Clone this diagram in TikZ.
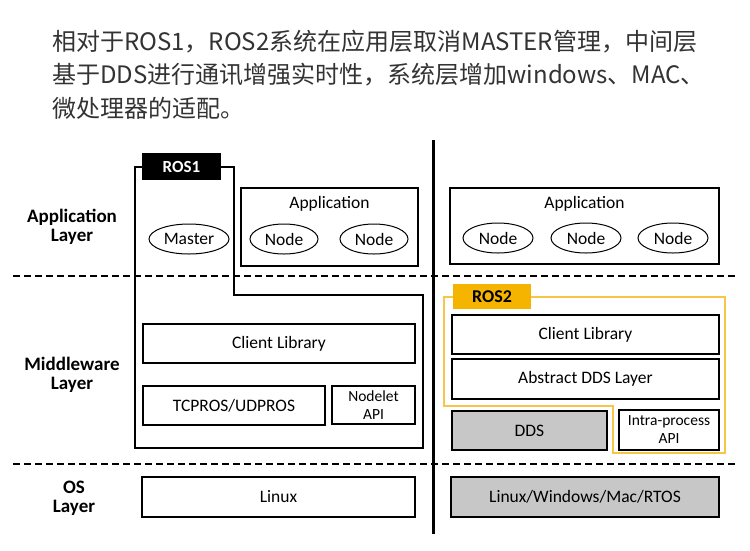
\documentclass[tikz,border=0pt]{standalone}
\usepackage{fontspec}
\setmainfont{Carlito}
\newfontfamily\cjk{Noto Sans CJK SC}
\usetikzlibrary{positioning}
\usetikzlibrary{shapes}
\definecolor{rosorange}{HTML}{F5B400}
\definecolor{rosline}{HTML}{F7C548}
\definecolor{titlegray}{HTML}{333333}
\tikzstyle{layerbox}=[draw,line width=1.2pt,fill=white,inner sep=0pt,align=center,font=\fontsize{17.5}{19}\selectfont]
\tikzstyle{graybox}=[layerbox,fill=black!22]
\tikzstyle{smallbox}=[layerbox,font=\fontsize{15.5}{18}\selectfont]
\tikzstyle{oval}=[ellipse,draw,line width=1pt,minimum height=30pt,inner sep=0pt,font=\fontsize{17.5}{19}\selectfont]
\tikzstyle{layername}=[align=center,font=\bfseries\fontsize{19}{19}\selectfont]
\tikzstyle{layersep}=[dash pattern=on 7pt off 4pt,line width=1.3pt]
\tikzstyle{caption}=[anchor=west,inner sep=0pt,text=titlegray,font=\cjk\fontsize{24}{28}\selectfont]

\begin{document}
\begin{tikzpicture}[x=1pt,y=-1pt]

  \useasboundingbox[fill=white] (0,0) rectangle (750,550);

  % caption
  \foreach \y/\name/\label in {42/capA/{相对于ROS1，ROS2系统在应用层取消MASTER管理，中间层},
      75/capB/{基于DDS进行通讯增强实时性，系统层增加windows、MAC、},
      108/capC/{微处理器的适配。}}
     \node[caption] (\name) at (52,\y) {\label};

  % layers
  \draw[layersep] (13,276) -- (737,276);
  \draw[layersep] (13,464) -- (737,464);
  \draw[line width=3pt] (433,140) -- (433,534);

  \node[layername] (applayer) at (72,227) {Application\\Layer};
  \node[layername] (mwlayer) at (72,375) {Middleware\\Layer};
  \node[layername] (oslayer) at (74,498) {OS\\Layer};

  % ROS1
  \node[fill=black,text=white,font=\bfseries\fontsize{17}{19}\selectfont,minimum width=79pt,minimum height=27pt,inner sep=0pt] (ros1) at (181.5,166.5) {ROS1};
  \draw[line width=2pt] (ros1.west) -| (135,448) -| (423,295) -- (234,295) |- (ros1.east);

  \node[layerbox, minimum width=177pt, minimum height=78pt] (appL) at (329.5,227) {};
  \node[below=9pt of appL.north, font=\fontsize{17.5}{19}\selectfont, inner sep=0pt] (appLtxt) {Application};
  \node[oval, minimum width=80pt] (master) at (189,239) {Master};
  \foreach \x/\name in {284/nodeLa, 374/nodeLb}
     \node[oval, minimum width=68pt] (\name) at (\x,239) {Node};

  \foreach \x/\y/\w/\h/\name/\label in {279/343.5/272/39/clientL/{Client Library},
      234/405.5/182/39/tcpros/{TCPROS/UDPROS},
      278.5/497/273/40/linuxL/{Linux}}
     \node[layerbox, minimum width=\w pt, minimum height=\h pt] (\name) at (\x,\y) {\label};
  \node[smallbox, minimum width=83pt, minimum height=38pt] (nodelet) at (373.5,405) {Nodelet\\API};

  % ROS2
  \node[layerbox, minimum width=269pt, minimum height=76pt] (appR) at (584.5,226) {};
  \node[below=9pt of appR.north, font=\fontsize{17.5}{19}\selectfont, inner sep=0pt] (appRtxt) {Application};
  \foreach \x/\name in {498/nodeRa, 586/nodeRb, 673/nodeRc}
     \node[oval, minimum width=70pt] (\name) at (\x,238) {Node};

  \draw[rosline, line width=2pt] (444,297) -- (725,297) -- (725,453) -- (613,453) -- (613,406) -- (444,406) -- cycle;
  \node[fill=rosorange,font=\bfseries\fontsize{18}{20}\selectfont,minimum width=78pt,minimum height=25pt,inner sep=0pt] (ros2) at (492,296.5) {ROS2};

  \foreach \x/\y/\w/\h/\name/\label in {585.5/334.5/267/39/clientR/{Client Library},
      585.5/379/267/40/absdds/{Abstract DDS Layer}}
     \node[layerbox, minimum width=\w pt, minimum height=\h pt] (\name) at (\x,\y) {\label};
  \foreach \x/\y/\w/\h/\name/\label in {529.5/430.5/155/39/dds/{DDS},
      585/497/268/40/linuxR/{Linux/Windows/Mac/RTOS}}
     \node[graybox, minimum width=\w pt, minimum height=\h pt] (\name) at (\x,\y) {\label};
  \node[smallbox, minimum width=100pt, minimum height=40pt] (intra) at (669,430) {Intra-process\\API};

\end{tikzpicture}
\end{document}
